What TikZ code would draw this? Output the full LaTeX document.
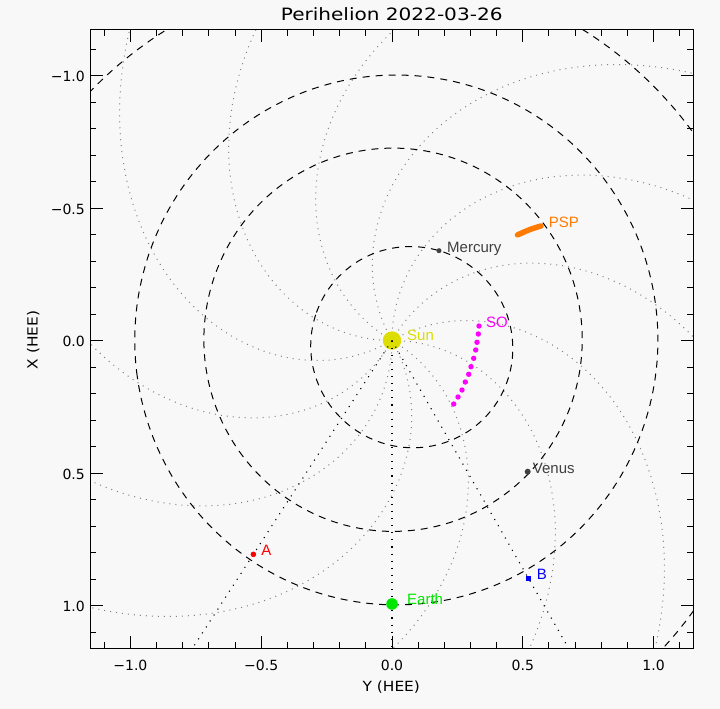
\documentclass[tikz,border=0pt]{standalone}
\usepackage{fontspec}
\usepackage{graphicx}
\setmainfont{DejaVu Sans}
\newfontfamily\objfont{Liberation Sans}
\usetikzlibrary{calc}
\definecolor{bg}{RGB}{248,248,248}
\definecolor{sunyellow}{RGB}{221,221,0}
\definecolor{earthgreen}{RGB}{0,230,0}
\definecolor{psporange}{RGB}{255,122,0}
\definecolor{somagenta}{RGB}{255,0,255}
\definecolor{planetgray}{RGB}{64,64,64}
\definecolor{spiralgray}{RGB}{128,128,128}
\definecolor{scred}{RGB}{255,0,0}
\definecolor{scblue}{RGB}{0,0,255}
\newcommand{\orbitplot}[3]{%
  \draw[orbit] plot[domain=0:360, samples=241, variable=\v]
    ({#1*(1-#2*#2)/(1+#2*cos(\v))*sin(#3+\v)},
     {#1*(1-#2*#2)/(1+#2*cos(\v))*cos(#3+\v)});}
\begin{document}
\begin{tikzpicture}[
  axisline/.style={line width=1pt, black},
  orbit/.style={line width=1pt, black, dash pattern=on 7pt off 6pt},
  spiral/.style={line width=1pt, spiralgray, dash pattern=on 1pt off 5pt},
  radial/.style={line width=1.1pt, black, dash pattern=on 1.1pt off 6pt},
  ticklabel/.style={font=\fontsize{14pt}{16pt}\selectfont, inner sep=0pt},
  axtitle/.style={font=\fontsize{14pt}{16pt}\selectfont, inner sep=0pt, anchor=base},
  objlabel/.style={font=\objfont\fontsize{15pt}{17pt}\selectfont, inner sep=0pt, anchor=base west},
  dotstyle/.style={circle, inner sep=0pt, draw=none},
]
\useasboundingbox[fill=bg] (0pt,0pt) rectangle (720pt,-709pt);
\begin{scope}[shift={(392pt,-340.5pt)}, x={(261.6pt,0pt)}, y={(0pt,-265pt)}]
  \coordinate (bl) at (-1.1544,1.1615);
  \coordinate (tr) at (1.1518,-1.1743);
  \coordinate (Apos) at (-0.530,0.807);
  \coordinate (Bpos) at (0.5214,0.897);
  \coordinate (Epos) at (0,0.9943);
  \begin{scope}
    \clip (bl) rectangle (tr);
    % Parker spirals
    \foreach \t in {0,30,...,330}
      \draw[spiral] plot[domain=0:1.75, samples=160, variable=\r]
        ({\r*sin(\t-51.5*\r)}, {\r*cos(\t-51.5*\r)});
    % planetary orbits
    \orbitplot{0.3871}{0.2056}{-108.4}
    \orbitplot{0.7233}{0.0068}{-54.4}
    \orbitplot{1.0000}{0.0167}{-83}
    \orbitplot{1.5237}{0.0934}{150.1}
    % Sun
    \node[dotstyle, fill=sunyellow, minimum size=18.4pt] (sun) at (0,0) {};
    % radial lines
    \draw[radial] (sun.center) -- ($(sun.center)!1.6!(Apos)$);
    \draw[radial] (sun.center) -- ($(sun.center)!1.4!(Epos)$);
    \draw[radial] (sun.center) -- ($(sun.center)!1.5!(Bpos)$);
    % planets
    \node[dotstyle, fill=planetgray, minimum size=5pt] (mercury) at (0.1797,-0.3389) {};
    \node[dotstyle, fill=planetgray, minimum size=6pt] (venus) at (0.5187,0.4951) {};
    \node[dotstyle, fill=earthgreen, minimum size=11.6pt] (earth) at (Epos) {};
    % spacecraft
    \node[dotstyle, fill=scred, minimum size=5.6pt] (A) at (Apos) {};
    \node[rectangle, inner sep=0pt, fill=scblue, minimum size=5pt] (B) at (Bpos) {};
    \coordinate (psp1) at (0.4797,-0.3985);
    \coordinate (psp2) at (0.5275,-0.4189);
    \coordinate (psp3) at (0.5695,-0.4321);
    \draw[psporange, line width=5.5pt, line cap=round] plot[smooth] coordinates {(psp1) (psp2) (psp3)};
    \foreach \yy/\xx [count=\n] in {0.3326/-0.0547, 0.3299/-0.0245, 0.3249/0.0068,
        0.3200/0.0358, 0.3123/0.0672, 0.3020/0.0989, 0.2932/0.1275, 0.2802/0.1566,
        0.2676/0.1868, 0.2523/0.2132, 0.2359/0.2396}
      \node[dotstyle, fill=somagenta, minimum size=5.4pt] (so\n) at (\yy,\xx) {};
  \end{scope}
  % labels
  \node[objlabel, text=sunyellow] (sunlab) at ($(sun.center)+(15pt,0pt)$) {Sun};
  \node[objlabel, text=planetgray] (merclab) at ($(mercury.center)+(8pt,-2pt)$) {Mercury};
  \node[objlabel, text=planetgray] (venlab) at ($(venus.center)+(5pt,-1.6pt)$) {Venus};
  \node[objlabel, text=earthgreen] (earthlab) at ($(earth.center)+(15pt,-1pt)$) {Earth};
  \node[objlabel, text=scred] (Alab) at ($(A.center)+(7.8pt,-1.4pt)$) {A};
  \node[objlabel, text=scblue] (Blab) at ($(B.center)+(8.2pt,-1.7pt)$) {B};
  \node[objlabel, text=psporange] (psplab) at ($(psp3)+(7.6pt,-2pt)$) {PSP};
  \node[objlabel, text=somagenta] (solab) at ($(so1.center)+(7pt,-1.3pt)$) {SO};
  % axes box
  \draw[axisline] (bl) rectangle (tr);
  \foreach \i in {-11,...,11} {
    \draw[axisline] (\i/10,1.1615) -- ++(0pt,6.3pt);
    \draw[axisline] (\i/10,-1.1743) -- ++(0pt,-6.3pt);
    \draw[axisline] (-1.1544,\i/10) -- ++(6.3pt,0pt);
    \draw[axisline] (1.1518,\i/10) -- ++(-6.3pt,0pt);
  }
  \foreach \m/\lab in {-1/−1.0, -0.5/−0.5, 0/0.0, 0.5/0.5, 1/1.0} {
    \draw[axisline] (\m,1.1615) -- ++(0pt,12.7pt);
    \draw[axisline] (\m,-1.1743) -- ++(0pt,-12.7pt);
    \draw[axisline] (-1.1544,\m) -- ++(12.7pt,0pt);
    \draw[axisline] (1.1518,\m) -- ++(-12.7pt,0pt);
    \node[ticklabel, anchor=base, yshift=-22.4pt] at (\m,1.1615) {\lab};
    \node[ticklabel, anchor=base east, xshift=-5pt, yshift=-6pt] at (-1.1544,\m) {\lab};
  }
\end{scope}
\node[axtitle, font=\fontsize{17pt}{19pt}\selectfont] (title) at (391.7pt,-20.7pt) {\scalebox{1.18}[1]{Perihelion 2022-03-26}};
\node[axtitle] (ytitle) at (391.3pt,-691.7pt) {\scalebox{1.1}[1]{Y (HEE)}};
\node[axtitle, rotate=90] (xtitle) at (37.5pt,-340pt) {\scalebox{1.1}[1]{X (HEE)}};
\end{tikzpicture}
\end{document}
